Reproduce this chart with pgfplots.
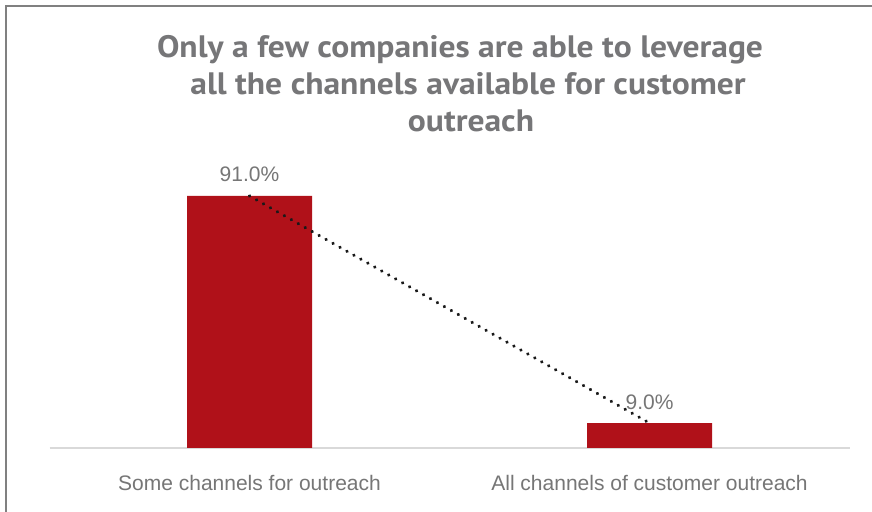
\documentclass[border=0pt]{standalone}
\usepackage{pgfplots}
\pgfplotsset{compat=1.18}
\usepackage{fontspec}
\setmainfont{Liberation Sans}
\newfontfamily\titlefont{PT Sans}
\definecolor{barred}{RGB}{176,17,25}
\definecolor{txtgray}{RGB}{118,118,118}
\definecolor{titlegray}{RGB}{118,118,120}
\definecolor{framegray}{RGB}{128,128,128}
\definecolor{axgray}{RGB}{217,217,217}
\newsavebox\tbox
\newcommand\tline[1]{{\color{titlegray}\titlefont\bfseries\fontsize{31}{36}\selectfont #1}}
\begin{document}
\sbox\tbox{\tline{Only a few companies are able to leverage}}%
\edef\tw{\the\wd\tbox}%
\pgfmathsetmacro\tsf{606/\tw}%
\begin{tikzpicture}[x=1pt,y=1pt]
\useasboundingbox (0,0) rectangle (872,511);
\fill[white] (0,0) rectangle (872,511);
\draw[framegray, line width=2pt] (6,-20) -- (6,505) -- (890,505);
% title
\node[anchor=base, inner sep=0] at (460,453) {\scalebox{\tsf}[1]{\usebox\tbox}};
\node[anchor=base, inner sep=0] at (468,416) {\scalebox{\tsf}[1]{\tline{all the channels available for customer}}};
\node[anchor=base, inner sep=0] at (471,379) {\scalebox{\tsf}[1]{\tline{outreach}}};
\begin{axis}[
  at={(49.5pt,63pt)}, anchor=south west,
  scale only axis, width=800pt, height=277pt,
  xmin=-0.5, xmax=1.5, ymin=0, ymax=100,
  axis x line*=bottom, hide y axis,
  x axis line style={axgray, line width=1.5pt},
  xtick={0,1}, xticklabels={Some channels for outreach, All channels of customer outreach},
  major tick length=0pt,
  xticklabel style={font=\fontsize{21}{25}\selectfont, text=txtgray, anchor=base, yshift=-42pt},
  clip=false,
]
\addplot[ybar, bar width=125pt, fill=barred, draw=none,
  nodes near coords={\pgfmathprintnumber[fixed, fixed zerofill, precision=1, assume math mode=true]{\pgfplotspointmeta}\%},
  every node near coord/.append style={font=\fontsize{21}{25}\selectfont, text=txtgray, anchor=base, yshift=14pt},
] coordinates {(0,91) (1,9)};
\addplot[black!90, line width=3.4pt, line cap=round, dash pattern=on 0.2pt off 7.8pt, mark=none] coordinates {(0,91) (1,9)};
\end{axis}
\end{tikzpicture}
\end{document}
